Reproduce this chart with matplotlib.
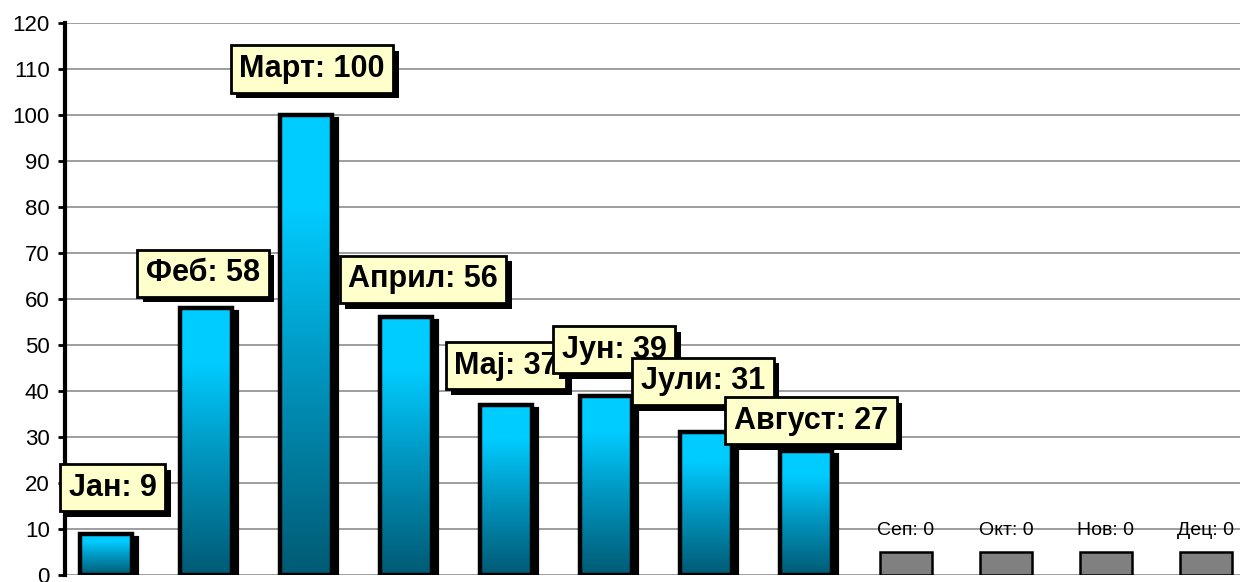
import numpy as np
import matplotlib.pyplot as plt
import matplotlib.patheffects as pe
from matplotlib.colors import LinearSegmentedColormap
from matplotlib.transforms import offset_copy

plt.rcParams['font.family'] = ['Liberation Sans', 'DejaVu Sans']

# Податоци
meseci = ['Јан', 'Феб', 'Март', 'Април', 'Мај', 'Јун', 'Јули', 'Август',
          'Сеп', 'Окт', 'Нов', 'Дец']
vrednosti = [9, 58, 100, 56, 37, 39, 31, 27, 0, 0, 0, 0]
# празните месеци се прикажуваат со мала сива колона
prazna_visina = 5

# поместување на етикетите (пиксели) од врвот на колоната
pomest_x = [7, -3, 6, 17, 0, 8, -3, 5, 0, 0, 0, 0]
pomest_y = [46, 35, 46, 38, 39, 46, 51, 30, 22, 22, 22, 22]

fig = plt.figure(figsize=(12.4, 5.82), dpi=100)
ax = fig.add_axes([0.0524, 0.012, 0.9476, 0.9485])
ax.set_xlim(-0.41, 11.34)
ax.set_ylim(0, 120)

sirina = 0.52
cmap = LinearSegmentedColormap.from_list(
    'sina', [(0, '#005A74'), (0.45, '#0096C0'), (0.8, '#00CCFF'), (1, '#00CCFF')])
senka = offset_copy(ax.transData, fig=fig, x=5, y=-4, units='dots')

for i, v in enumerate(vrednosti):
    x0 = i - sirina / 2
    if v > 0:
        ax.bar(i, v, width=sirina, color='black', edgecolor='black', lw=3,
               transform=senka, zorder=2)
        grad = np.linspace(0, 1, 256).reshape(-1, 1)
        img = ax.imshow(grad, extent=(x0, x0 + sirina, 0, v), origin='lower',
                        cmap=cmap, aspect='auto', zorder=3)
        b = ax.bar(i, v, width=sirina, facecolor='none', edgecolor='black',
                   lw=3.2, zorder=4)
        img.set_clip_path(b[0])
    else:
        ax.bar(i, prazna_visina, width=sirina, color='#808080',
               edgecolor='black', lw=1.8, zorder=4)

# етикети
for i, v in enumerate(vrednosti):
    tekst = f'{meseci[i]}: {v}'
    if v > 0:
        t = ax.annotate(tekst, (i, v), xytext=(pomest_x[i], pomest_y[i]),
                        textcoords='offset pixels', ha='center', va='center',
                        fontsize=22, fontweight='bold', zorder=10 + i,
                        bbox=dict(boxstyle='square,pad=0.28', fc='#FFFFCC',
                                  ec='black', lw=2))
        t.get_bbox_patch().set_path_effects([
            pe.SimplePatchShadow(offset=(4, -4), shadow_rgbFace='black', alpha=1),
            pe.Normal()])
    else:
        ax.annotate(tekst, (i, prazna_visina), xytext=(pomest_x[i], pomest_y[i]),
                    textcoords='offset pixels', ha='center', va='center',
                    fontsize=14, zorder=10)

ax.set_yticks(range(0, 121, 10))
ax.set_xticks([])
ax.grid(axis='y', color='#8c8c8c', lw=1.2, zorder=0)
ax.set_axisbelow(True)
for s in ['top', 'right', 'bottom']:
    ax.spines[s].set_visible(False)
ax.spines['left'].set_linewidth(3)
ax.tick_params(axis='y', length=5, width=2, labelsize=16, pad=6)

fig.savefig('out.png', dpi=100)
